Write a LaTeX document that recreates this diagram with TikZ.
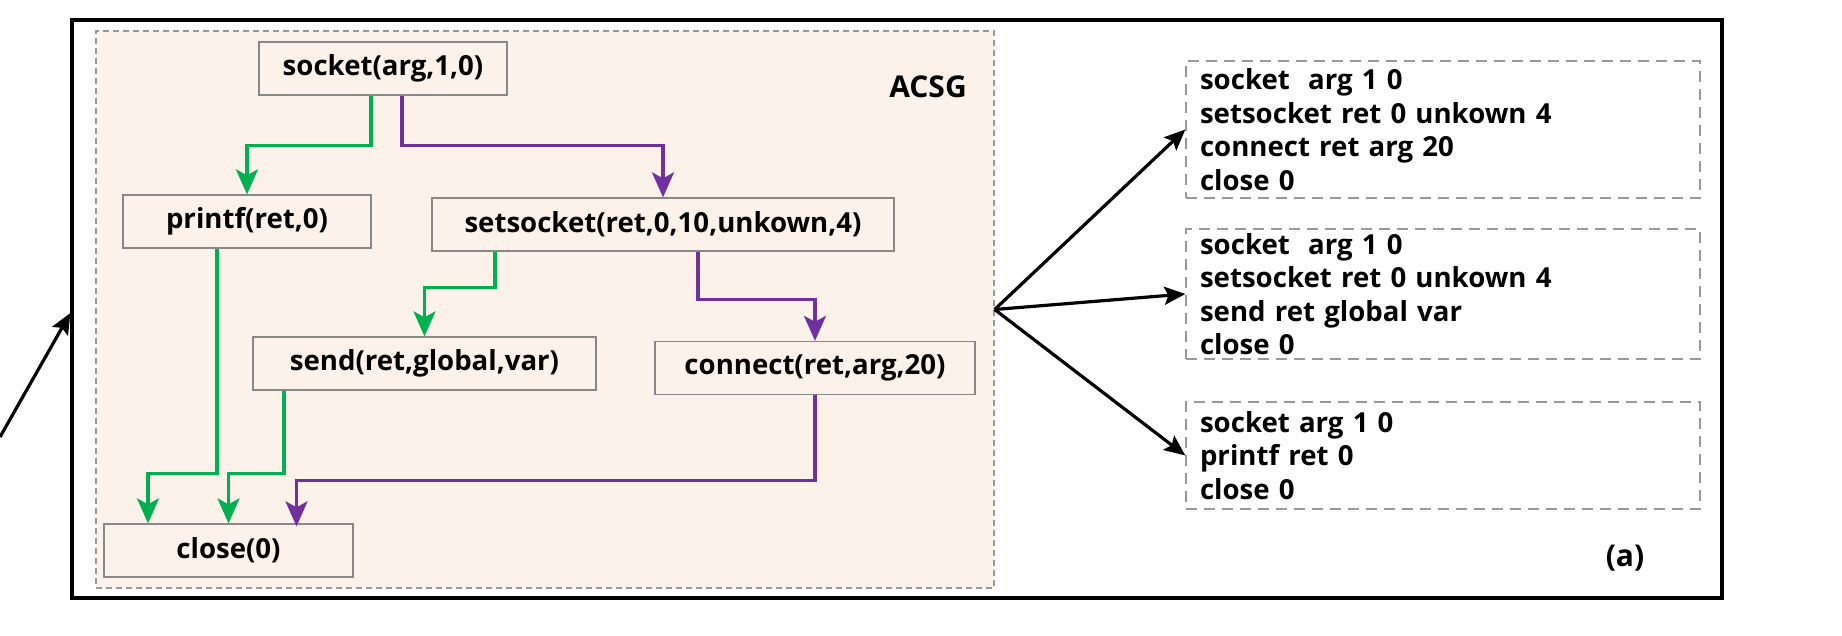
\documentclass[tikz,border=0pt]{standalone}
\usepackage{fontspec}
\setmainfont{Open Sans}
\usetikzlibrary{arrows.meta}
\definecolor{grn}{HTML}{00B050}
\definecolor{prp}{HTML}{7030A0}
\definecolor{peach}{HTML}{FDF2EA}
\definecolor{bgray}{HTML}{888888}
\definecolor{dgray}{HTML}{999999}
\begin{document}
\begin{tikzpicture}[x=0.5pt,y=-0.5pt,
  fn/.style={draw=bgray, line width=0.65pt, fill=peach, minimum height=26.5pt, inner sep=0pt,
    font=\bfseries\fontsize{13.8}{15}\selectfont},
  seqbox/.style={draw=dgray, dash pattern=on 5.5pt off 3.5pt, line width=0.65pt, inner xsep=7pt,
    inner ysep=0pt, align=left, text width=243pt, font=\bfseries\fontsize{13.8}{16.75}\selectfont},
  lbl/.style={font=\bfseries\fontsize{15}{16}\selectfont, inner sep=0pt},
  ctip/.style={-{Stealth[length=12.5pt,width=11pt,inset=3pt]}},
  gedge/.style={draw=grn, line width=1.6pt, ctip},
  pedge/.style={draw=prp, line width=1.6pt, ctip},
  bedge/.style={draw=black, line width=1.6pt, -{Stealth[length=10.5pt,width=9pt,inset=2pt]}},
]
\useasboundingbox (0,0) rectangle (1842,636);
% outer frame
\node[draw=black, line width=1.6pt, minimum width=825pt, minimum height=289pt, inner sep=0pt] (frame) at (897,309) {};
% ACSG region
\node[draw=dgray, fill=peach, dash pattern=on 3pt off 2pt, line width=0.65pt, minimum width=449pt, minimum height=278.5pt, inner sep=0pt] (acsg) at (545,309.5) {};
\node[lbl] (acsglbl) at (928,87) {ACSG};
% function nodes
\node[fn, minimum width=124pt] (socket) at (383,68.5) {socket(arg,1,0)};
\node[fn, minimum width=124pt] (printf) at (247,221.5) {printf(ret,0)};
\node[fn, minimum width=231pt] (setsocket) at (663,224.5) {setsocket(ret,0,10,unkown,4)};
\node[fn, minimum width=171.5pt] (send) at (424.5,363.5) {send(ret,global,var)};
\node[fn, minimum width=160pt] (connect) at (815,368) {connect(ret,arg,20)};
\node[fn, minimum width=124.5pt] (close) at (228.5,550.5) {close(0)};
% connectors
\draw[gedge] ([xshift=-6pt]socket.south) -- ++(0,50) -| (printf.north);
\draw[pedge] ([xshift=9.5pt]socket.south) -- ++(0,50) -| (setsocket.north);
\draw[gedge] ([xshift=-84pt]setsocket.south) -- ++(0,36) -| (send.north);
\draw[pedge] ([xshift=17.5pt]setsocket.south) -- ++(0,48) -| (connect.north);
\draw[gedge] ([xshift=-15pt]printf.south) -- ++(0,225) -| ([xshift=-40.25pt]close.north);
\draw[gedge] ([xshift=-70.25pt]send.south) -- ++(0,83) -| (close.north);
\draw[pedge] (connect.south) -- ++(0,85) -| ([xshift=34pt,yshift=-1.5pt]close.north);
% sequence boxes
\node[seqbox, minimum height=68.5pt] (seqa) at (1443,129.5) {socket~ arg 1 0\\setsocket ret 0 unkown 4\\connect ret arg 20\\close 0};
\node[seqbox, minimum height=65pt] (seqb) at (1443,294) {socket~ arg 1 0\\setsocket ret 0 unkown 4\\send ret global var\\close 0};
\node[seqbox, minimum height=53.5pt] (seqc) at (1443,455.5) {socket arg 1 0\\printf ret 0\\close 0};
\draw[bedge] (acsg.east) -- (seqa.west);
\draw[bedge] (acsg.east) -- (seqb.west);
\draw[bedge] (acsg.east) -- (seqc.west);
% incoming arrow
\coordinate (lstart) at (0,437);
\draw[bedge] (lstart) -- ([yshift=-2pt]frame.west);
\node[lbl] (sublbl) at (1625,558) {(a)};
\end{tikzpicture}
\end{document}
